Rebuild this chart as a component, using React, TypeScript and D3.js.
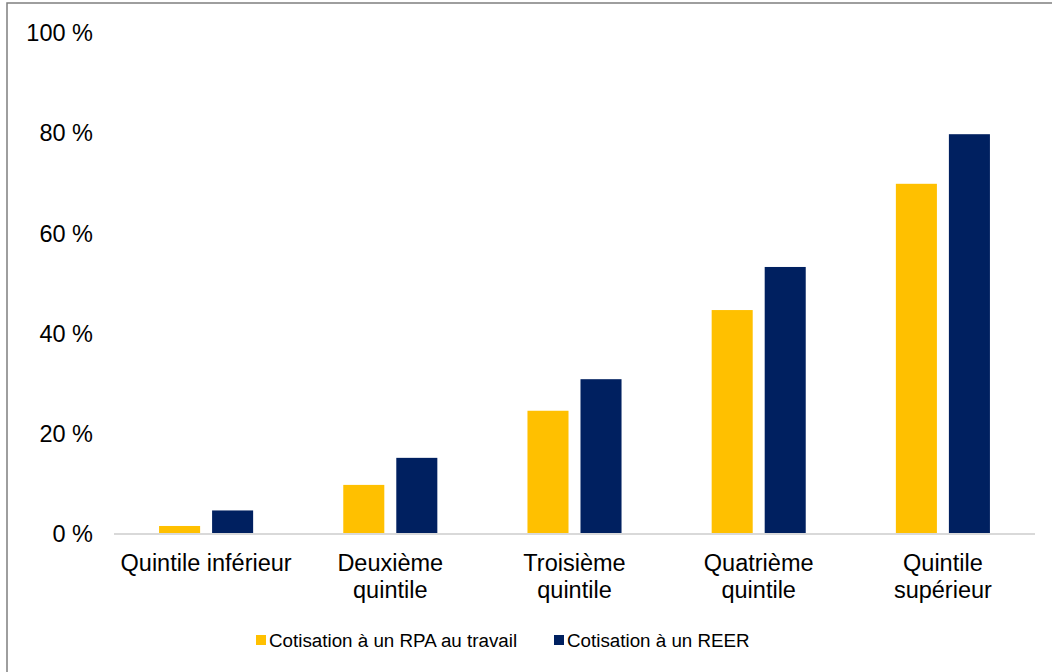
import React from "react";
import * as d3 from "d3";

const categories: string[][] = [
  ["Quintile inférieur"],
  ["Deuxième", "quintile"],
  ["Troisième", "quintile"],
  ["Quatrième", "quintile"],
  ["Quintile", "supérieur"],
];
const rpaValues = [1.6, 9.8, 24.6, 44.7, 69.9];
const reerValues = [4.7, 15.2, 30.9, 53.3, 79.8];
const seriesNames = ["Cotisation à un RPA au travail", "Cotisation à un REER"];
const seriesColors = ["#FFC000", "#002060"];
const yTicks = [0, 20, 40, 60, 80, 100];

export default function App() {
  const W = 1052, H = 672;
  const x0 = d3.scaleBand<number>().domain(d3.range(categories.length)).range([114, 1035]).paddingInner(0).paddingOuter(0);
  const x1 = d3.scaleBand<number>().domain([0, 1]).range([0, x0.bandwidth()]).paddingInner(0.226).paddingOuter(0.85);
  const y = d3.scaleLinear().domain([0, 100]).range([534, 33]);
  const series = [rpaValues, reerValues];
  const font = "'Liberation Sans', Arial, sans-serif";

  return (
    <svg width={W} height={H} style={{ position: "absolute", left: 0, top: 0, background: "#fff" }} fontFamily={font}>
      <rect x={7} y={3} width={W + 10} height={H + 10} fill="#fff" stroke="#7f7f7f" strokeWidth={1.5} />
      {yTicks.map((t) => (
        <text key={t} x={93} y={y(t)} dy="0.35em" textAnchor="end" fontSize={23.5} fill="#000">
          {t} %
        </text>
      ))}
      {series.map((vals, si) =>
        vals.map((v, i) => (
          <rect
            key={`${si}-${i}`}
            x={(x0(i) as number) + (x1(si) as number)}
            y={y(v)}
            width={x1.bandwidth()}
            height={y(0) - y(v)}
            fill={seriesColors[si]}
          />
        ))
      )}
      <line x1={114} x2={1035} y1={y(0)} y2={y(0)} stroke="#d9d9d9" strokeWidth={2} />
      {categories.map((lines, i) => (
        <text key={i} x={(x0(i) as number) + x0.bandwidth() / 2} y={571} textAnchor="middle" fontSize={23.5} fill="#000">
          {lines.map((l, j) => (
            <tspan key={j} x={(x0(i) as number) + x0.bandwidth() / 2} dy={j === 0 ? 0 : 27}>
              {l}
            </tspan>
          ))}
        </text>
      ))}
      {[256, 554].map((lx, si) => (
        <g key={si}>
          <rect x={lx} y={635} width={10} height={10} fill={seriesColors[si]} />
          <text x={lx + 13} y={646.5} fontSize={18.8} fill="#000">
            {seriesNames[si]}
          </text>
        </g>
      ))}
    </svg>
  );
}
